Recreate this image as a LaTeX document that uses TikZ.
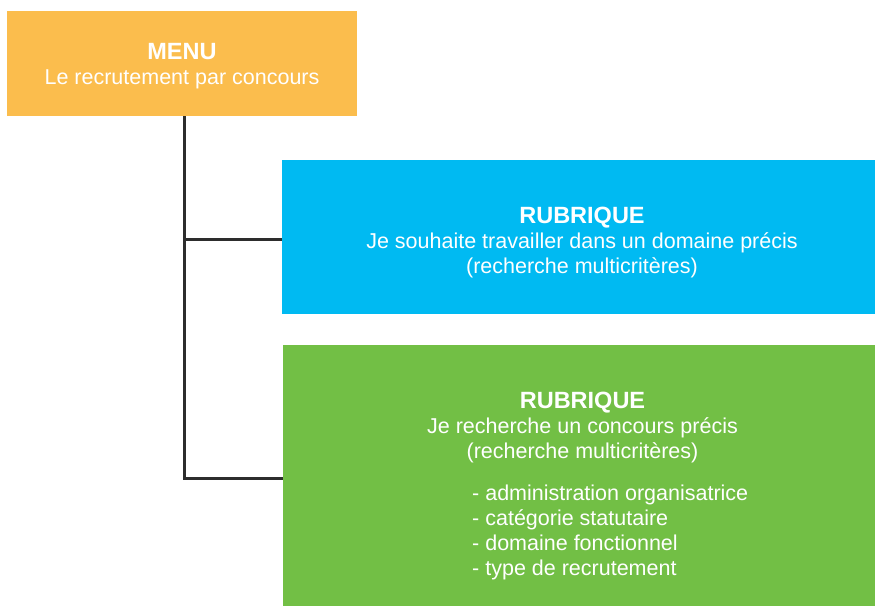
\documentclass[tikz,border=0pt]{standalone}
\usepackage{fontspec}
\setmainfont{Liberation Sans}
\usetikzlibrary{positioning}
\definecolor{menuorange}{RGB}{251,189,77}
\definecolor{rubblue}{RGB}{0,186,242}
\definecolor{rubgreen}{RGB}{114,191,69}
\definecolor{linkgray}{RGB}{45,45,45}
\newcommand{\headfont}{\fontsize{23.5}{25}\selectfont\bfseries}
\tikzset{
  box/.style={rectangle, draw=none, inner sep=0pt, anchor=north west},
  boxtext/.style={text=white, inner sep=0pt, align=center, anchor=north,
    font=\fontsize{21.5}{25}\selectfont},
  listtext/.style={text=white, inner sep=0pt, align=left, anchor=north west,
    font=\fontsize{21.5}{25}\selectfont},
  link/.style={draw=linkgray, line width=2.6pt, line join=miter}
}
\begin{document}
\begin{tikzpicture}[x=1pt, y=-1pt]
  \useasboundingbox (0,0) rectangle (875,606);

  % boxes
  \node[box, fill=menuorange, minimum width=350pt, minimum height=105pt] (menu) at (7,11) {};
  \node[box, fill=rubblue, minimum width=593pt, minimum height=154pt] (blue) at (282,160) {};
  \node[box, fill=rubgreen, minimum width=592pt, minimum height=261pt] (green) at (283,345) {};

  % tree connectors
  \draw[link] ([xshift=2pt]menu.south) |- ([yshift=-2.5pt]green.west);
  \draw[link] ([xshift=2pt]menu.south) |- ([yshift=-2pt]blue.west);

  % texts
  \node[boxtext] (menutext) at (182,43.3)
    {{\headfont MENU}\\Le recrutement par concours};
  \node[boxtext] (bluetext) at (582,206.8)
    {{\headfont RUBRIQUE}\\Je souhaite travailler dans un domaine précis\\(recherche multicritères)};
  \node[boxtext] (greentext) at (582.5,392.3)
    {{\headfont RUBRIQUE}\\Je recherche un concours précis\\(recherche multicritères)};
  \node[listtext] (greenlist) at (472,484.6)
    {- administration organisatrice\\- catégorie statutaire\\- domaine fonctionnel\\- type de recrutement};
\end{tikzpicture}
\end{document}
